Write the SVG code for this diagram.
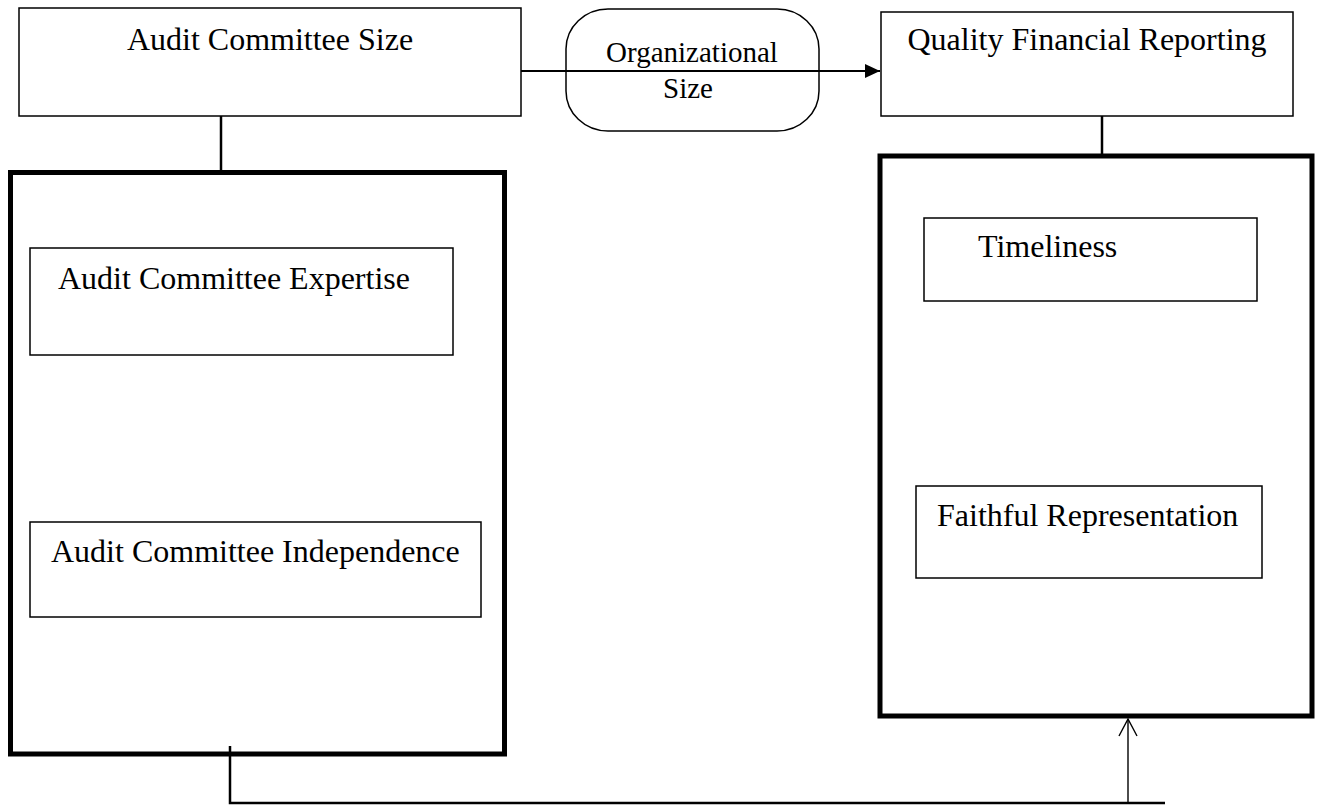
<svg xmlns="http://www.w3.org/2000/svg" width="1317" height="805" viewBox="0 0 1317 805">
<style>
.box{fill:#fff;stroke:#000;stroke-width:1.5}
.thick{fill:none;stroke:#000;stroke-width:5}
.lbl{font-family:"Liberation Serif","Times New Roman",serif;fill:#000;font-size:32px}
.small{font-size:29px}
.conn{fill:none;stroke:#000;stroke-width:2.5}
.thin{fill:none;stroke:#000;stroke-width:1.4}
</style>
<defs>
<marker id="solid" markerWidth="16" markerHeight="16" refX="15" refY="7" orient="auto" markerUnits="userSpaceOnUse">
<path d="M0,0 L15,7 L0,14 Z" fill="#000"/>
</marker>
<marker id="open" markerWidth="24" markerHeight="24" refX="18" refY="10" orient="auto" markerUnits="userSpaceOnUse">
<path d="M1,1 L18,10 L1,19" fill="none" stroke="#000" stroke-width="1.4"/>
</marker>
</defs>
<rect width="1317" height="805" fill="#fff"/>
<g id="connectors">
<line class="conn" x1="221" y1="116" x2="221" y2="172"/>
<line class="conn" x1="1102" y1="116" x2="1102" y2="156"/>
<line x1="521" y1="71" x2="880" y2="71" stroke="#000" stroke-width="2" marker-end="url(#solid)"/>
<polyline class="conn" points="230,746 230,803 1165,803"/>
<line class="thin" x1="1128" y1="803" x2="1128" y2="719" marker-end="url(#open)"/>
</g>
<g id="audit-committee-size">
<rect class="box" x="19" y="8" width="502" height="108"/>
<text class="lbl" x="270" y="50" text-anchor="middle">Audit Committee Size</text>
</g>
<g id="organizational-size">
<rect x="566" y="9" width="253" height="122" rx="42" ry="40" fill="none" stroke="#000" stroke-width="1.5"/>
<text class="lbl small" x="692" y="62" text-anchor="middle">Organizational</text>
<text class="lbl small" x="688" y="98" text-anchor="middle">Size</text>
</g>
<g id="quality-financial-reporting">
<rect class="box" x="881" y="12" width="412" height="104"/>
<text class="lbl" x="1087" y="50" text-anchor="middle">Quality Financial Reporting</text>
</g>
<g id="left-group">
<rect class="thick" x="10.5" y="172.5" width="494" height="581.5"/>
</g>
<g id="audit-committee-expertise">
<rect class="box" x="30" y="248" width="423" height="107"/>
<text class="lbl" x="58" y="289">Audit Committee Expertise</text>
</g>
<g id="audit-committee-independence">
<rect class="box" x="30" y="522" width="451" height="95"/>
<text class="lbl" x="51" y="562">Audit Committee Independence</text>
</g>
<g id="right-group">
<rect class="thick" x="880" y="156" width="432" height="560"/>
</g>
<g id="timeliness">
<rect class="box" x="924" y="218" width="333" height="83"/>
<text class="lbl" x="978" y="257">Timeliness</text>
</g>
<g id="faithful-representation">
<rect class="box" x="916" y="486" width="346" height="92"/>
<text class="lbl" x="937" y="526">Faithful Representation</text>
</g>
</svg>
